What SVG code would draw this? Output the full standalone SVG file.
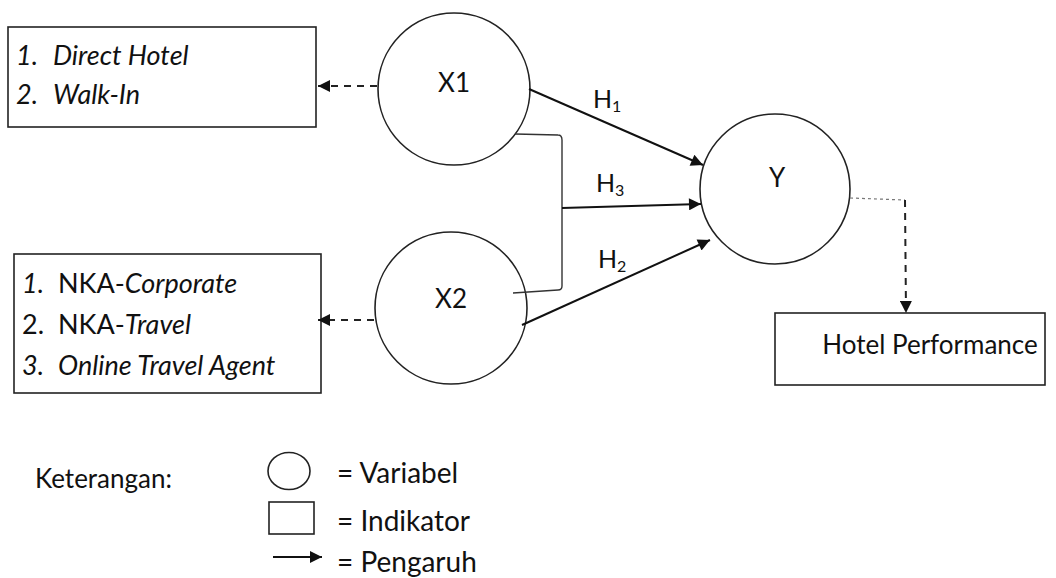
<svg xmlns="http://www.w3.org/2000/svg" width="1056" height="578" viewBox="0 0 1056 578">
<style>
text{font-family:Lato,"Open Sans",sans-serif;font-size:25px;fill:#111}
.bx{font-size:27px}
.lg{font-size:28px}
.md{font-size:26px}
.it{font-style:italic}
.node{fill:#fff;stroke:#222;stroke-width:1.6}
.sol{fill:none;stroke:#111;stroke-width:2}
.br{fill:none;stroke:#333;stroke-width:1.4}
.dash{fill:none;stroke:#222;stroke-width:2;stroke-dasharray:7,6}
.dot{fill:none;stroke:#777;stroke-width:1.2;stroke-dasharray:3,3}
.sub{font-size:16px}
</style>
<defs>
<marker id="ah2" viewBox="0 0 10 10" refX="10" refY="5" markerWidth="14" markerHeight="12" markerUnits="userSpaceOnUse" orient="auto">
<path d="M0,0L10,5L0,10z" fill="#111"/>
</marker>
</defs>
<g id="ind1">
<rect class="node" x="8" y="27" width="308" height="100"/>
<text y="65" class="it bx"><tspan x="16">1.</tspan><tspan x="53">Direct Hotel</tspan></text>
<text y="104" class="it bx"><tspan x="16">2.</tspan><tspan x="53">Walk-In</tspan></text>
</g>
<g id="ind2">
<rect class="node" x="14" y="254" width="307" height="139"/>
<text y="293" class="bx"><tspan x="22" class="it">1.</tspan><tspan x="58">NKA-</tspan><tspan class="it">Corporate</tspan></text>
<text y="334" class="bx"><tspan x="22">2.</tspan><tspan x="58">NKA-</tspan><tspan class="it">Travel</tspan></text>
<text y="375" class="it bx"><tspan x="22">3.</tspan><tspan x="58">Online Travel Agent</tspan></text>
</g>
<g id="x1">
<circle class="node" cx="454" cy="89" r="76"/>
<text x="454" y="92" text-anchor="middle" class="md">X1</text>
</g>
<g id="x2">
<circle class="node" cx="451" cy="308" r="76"/>
<text x="451" y="308" text-anchor="middle" class="md">X2</text>
</g>
<g id="y">
<circle class="node" cx="775" cy="189" r="75"/>
<text x="777" y="187" text-anchor="middle" class="md">Y</text>
</g>
<g id="hp">
<rect class="node" x="775" y="313" width="270" height="72"/>
<text x="930" y="354" text-anchor="middle" class="md">Hotel Performance</text>
</g>
<g id="connectors">
<line class="dash" x1="377" y1="86" x2="318" y2="86" marker-end="url(#ah2)"/>
<line class="dash" x1="374" y1="320" x2="318" y2="320" marker-end="url(#ah2)"/>
<line class="sol" x1="529" y1="89" x2="703" y2="165" marker-end="url(#ah2)"/>
<path class="br" d="M515,134 L558,135 Q562,135 562,140 L562,286 Q562,290 558,290 L513,293"/>
<line class="sol" x1="562" y1="208" x2="701" y2="204" marker-end="url(#ah2)"/>
<line class="sol" x1="522" y1="325" x2="710" y2="240" marker-end="url(#ah2)"/>
<polyline class="dot" points="850,198 905,200"/>
<line class="dash" x1="905" y1="200" x2="906" y2="313" marker-end="url(#ah2)"/>
<text x="593" y="108">H<tspan class="sub" dy="4">1</tspan></text>
<text x="596" y="192">H<tspan class="sub" dy="4">3</tspan></text>
<text x="598" y="268">H<tspan class="sub" dy="4">2</tspan></text>
</g>
<g id="legend">
<text x="35" y="488" class="md">Keterangan:</text>
<ellipse class="node" cx="289" cy="471" rx="21" ry="18.5"/>
<text x="337" y="483" class="lg">= Variabel</text>
<rect class="node" x="269" y="502" width="45" height="32"/>
<text x="337" y="531" class="lg">= Indikator</text>
<line class="sol" x1="273" y1="557" x2="322" y2="557" marker-end="url(#ah2)"/>
<text x="337" y="572" class="lg">= Pengaruh</text>
</g>
</svg>
